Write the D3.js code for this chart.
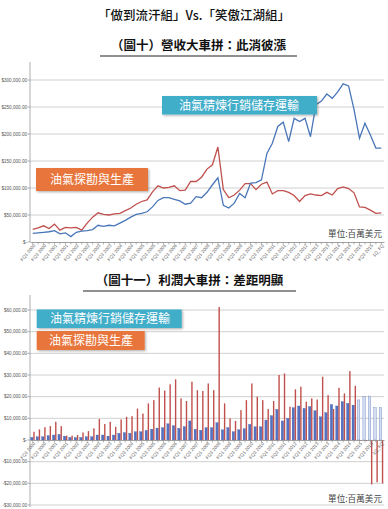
<!DOCTYPE html>
<html>
<head>
<meta charset="utf-8">
<script src="https://cdn.jsdelivr.net/npm/d3@7"></script>
<style>
  body { margin: 0; background: #fff; }
  svg { display: block; }
  text { font-family: "Liberation Sans", Arial, sans-serif; }
  .cjk { font-family: "Noto Sans CJK TC", sans-serif; }
</style>
</head>
<body>
<svg id="chart" width="388" height="509"></svg>
<script>
// categories: quarterly, FQ1 2000 .. FQ4 2015, then latest quarter
let years = d3.range(2000, 2016);
let quarters = [];
years.forEach(y => [1, 2, 3, 4].forEach(q => quarters.push("FQ" + q + " " + y)));
quarters.push("1Q_FQ");

// revenue (US$ millions)
let revRefining = [16000, 17000, 18000, 19000, 21000, 15000, 17000, 10000, 18000, 20000,
    21000, 23000, 31000, 29000, 31000, 30000, 35000, 40000, 46000, 51000,
    53000, 56000, 65000, 77000, 82000, 82000, 79000, 76000, 70000, 72000,
    84000, 82000, 92000, 106000, 119000, 68000, 63000, 72000, 90000, 82000,
    109000, 110000, 115000, 164000, 183000, 214000, 222000, 186000, 229000, 223000,
    229000, 195000, 254000, 261000, 274000, 266000, 278000, 293000, 289000, 245000,
    192000, 220000, 198000, 174000, 174000];
let revUpstream = [23500, 26000, 30000, 25000, 33000, 22000, 27000, 26000, 27000, 22000,
    35000, 46000, 54000, 51000, 50000, 52000, 53000, 58000, 63000, 70000,
    75000, 78000, 93000, 104000, 100000, 101000, 104000, 95000, 96000, 112000,
    112000, 120000, 135000, 143000, 176000, 97000, 82000, 87000, 96000, 108000,
    108000, 97000, 107000, 111000, 89000, 95000, 95000, 92000, 86000, 75000,
    86000, 89000, 87000, 86000, 92000, 87000, 99000, 102000, 99000, 91000,
    65000, 64000, 59000, 53000, 54000];

// profit (US$ millions)
let profRefining = [1200, 1500, 1500, 2000, 2300, 2600, 1800, 1200, 1200, 1200,
    1500, 1500, 2300, 2300, 1800, 2300, 3100, 3400, 3100, 3800,
    3800, 4400, 5000, 5500, 5700, 7500, 6600, 5400, 6200, 8800,
    5000, 4500, 5700, 5700, 8000, 4700, 5700, 3800, 4700, 5200,
    7200, 6100, 6100, 9200, 11200, 14100, 8800, 10000, 14900, 15700,
    14600, 15400, 13500, 10700, 12600, 16400, 15700, 17700, 16900, 16100,
    18500, 20000, 20300, 14900, 14900];
let profUpstream = [3800, 4900, 5900, 6400, 8400, 6400, 2000, 2000, 2300, 3500,
    4100, 5400, 9700, 7400, 8400, 6100, 9500, 10700, 11000, 14500,
    12200, 16900, 18400, 24200, 22800, 25700, 28000, 19200, 18000, 26900,
    23000, 22600, 26100, 23000, 61400, 16900, 10000, 8800, 13800, 18400,
    26100, 20000, 18400, 14300, 18000, 30000, 30700, 15400, 23400, 24600,
    17700, 19200, 18700, 29200, 20700, 14300, 24100, 21500, 31800, 25000,
    -300, -500, -20500, -19500, -20000];

let revTicks = [0, 50000, 100000, 150000, 200000, 250000, 300000];
let revTickLabels = ["$-", "$50,000.00", "$100,000.00", "$150,000.00", "$200,000.00", "$250,000.00", "$300,000.00"];
let profTicks = [-30000, -20000, -10000, 0, 10000, 20000, 30000, 40000, 50000, 60000];
let profTickLabels = ["-$30,000.00", "-$20,000.00", "-$10,000.00", "$-", "$10,000.00", "$20,000.00",
    "$30,000.00", "$40,000.00", "$50,000.00", "$60,000.00"];

let nameRefining = "油氣精煉行銷儲存運輸";
let nameUpstream = "油氣探勘與生產";

let cBlueLine = "#4a76b8", cRedLine = "#c0504d";
let cBlueBar = "#5372c2", cRedBar = "#c0504d";
let cTeal = "#3fadc9", cOrange = "#e8743a";

let svg = d3.select("#chart");
let defs = svg.append("defs");
defs.append("filter").attr("id", "shadow")
    .attr("x", "-10%").attr("y", "-20%").attr("width", "130%").attr("height", "160%")
    .append("feDropShadow")
    .attr("dx", 1.2).attr("dy", 1.2).attr("stdDeviation", 1)
    .attr("flood-color", "#000").attr("flood-opacity", 0.3);

// ---- titles
svg.append("text").attr("class", "cjk")
    .attr("x", 194).attr("y", 20)
    .attr("text-anchor", "middle")
    .attr("font-size", 12.5).attr("font-weight", 500)
    .attr("fill", "#111")
    .text("「做到流汗組」Vs.「笑傲江湖組」");

function subTitle(txt, cy, x0, x1) {
    svg.append("text").attr("class", "cjk")
        .attr("x", (x0 + x1) / 2).attr("y", cy + 4.5)
        .attr("text-anchor", "middle")
        .attr("font-size", 12.5).attr("font-weight", 700)
        .attr("fill", "#111")
        .text(txt);
    svg.append("line")
        .attr("x1", x0).attr("x2", x1)
        .attr("y1", cy + 11).attr("y2", cy + 11)
        .attr("stroke", "#222").attr("stroke-width", 1.2);
}
subTitle("（圖十）營收大車拼：此消彼漲", 45, 100, 297);
subTitle("（圖十一）利潤大車拼：差距明顯", 280, 83, 296);

// ---- shared x scale
let left = 30, right = 384;
let x = d3.scaleBand().domain(quarters).range([left, right]).padding(0);
let cx = q => x(q) + x.bandwidth() / 2;

function yAxis(scale, ticks, labels, top, bottom, zeroY) {
    let g = svg.append("g");
    g.selectAll("line.grid").data(ticks.filter(t => t !== 0)).join("line")
        .attr("class", "grid")
        .attr("x1", left).attr("x2", right)
        .attr("y1", d => scale(d)).attr("y2", d => scale(d))
        .attr("stroke", "#c4c4c4").attr("stroke-width", 0.8);
    g.append("line")
        .attr("x1", left).attr("x2", left)
        .attr("y1", top).attr("y2", bottom)
        .attr("stroke", "#9a9a9a").attr("stroke-width", 0.8);
    g.selectAll("line.tk").data(ticks).join("line")
        .attr("class", "tk")
        .attr("x1", left - 2.5).attr("x2", left)
        .attr("y1", d => scale(d)).attr("y2", d => scale(d))
        .attr("stroke", "#9a9a9a").attr("stroke-width", 0.8);
    g.selectAll("text").data(ticks).join("text")
        .attr("x", left - 3).attr("y", d => scale(d) + 1.6)
        .attr("text-anchor", "end")
        .attr("font-size", 4.6).attr("fill", "#555")
        .text((d, i) => labels[i]);
}

function xAxis(y0, labelAngle) {
    let ax = d3.axisBottom(x).tickSize(2.5).tickSizeOuter(0)
        .tickFormat((d, i) => i % 2 === 0 ? d : "");
    let g = svg.append("g").attr("transform", "translate(0," + y0 + ")").call(ax);
    g.select(".domain").attr("stroke", "#8a8a8a").attr("stroke-width", 0.8);
    g.selectAll(".tick line").attr("stroke", "#8a8a8a").attr("stroke-width", 0.6);
    g.selectAll(".tick text")
        .attr("font-family", "Liberation Sans, Arial, sans-serif")
        .attr("font-size", 4.6).attr("fill", "#666")
        .attr("x", -1).attr("y", 3).attr("dy", "0.35em")
        .attr("transform", "rotate(" + labelAngle + ")")
        .style("text-anchor", "end");
}

function tagBox(txt, bx, by, bw, bh, fill, tx) {
    svg.append("rect")
        .attr("x", bx).attr("y", by).attr("width", bw).attr("height", bh)
        .attr("fill", fill).attr("filter", "url(#shadow)");
    svg.append("text").attr("class", "cjk")
        .attr("x", tx).attr("y", by + bh / 2 + 4.3)
        .attr("font-size", 12).attr("fill", "#fff")
        .text(txt);
}

// ================= chart 1: revenue lines
let y1 = d3.scaleLinear().domain([0, 300000]).range([242, 80]);
yAxis(y1, revTicks, revTickLabels, 62, 242);
xAxis(242, -50);

let line1 = d3.line().x((d, i) => cx(quarters[i])).y(d => y1(d));
svg.append("path").datum(revUpstream)
    .attr("d", line1).attr("fill", "none")
    .attr("stroke", cRedLine).attr("stroke-width", 1.3);
svg.append("path").datum(revRefining)
    .attr("d", line1).attr("fill", "none")
    .attr("stroke", cBlueLine).attr("stroke-width", 1.3);

tagBox(nameRefining, 162, 96, 155, 18.5, cTeal, 179);
tagBox(nameUpstream, 36, 168, 112, 23, cOrange, 50);

svg.append("text").attr("class", "cjk")
    .attr("x", 382).attr("y", 237).attr("text-anchor", "end")
    .attr("font-size", 8.6).attr("fill", "#444")
    .text("單位:百萬美元");

// ================= chart 2: profit bars
let y2 = d3.scaleLinear().domain([-30000, 60000]).range([505, 310]);
yAxis(y2, profTicks, profTickLabels, 295, 507);

let bars = svg.append("g");
bars.selectAll("rect.ref").data(profRefining).join("rect")
    .attr("class", "ref")
    .attr("x", (d, i) => x(quarters[i]) + 0.7)
    .attr("width", 2.4)
    .attr("y", d => y2(Math.max(0, d)))
    .attr("height", d => Math.abs(y2(d) - y2(0)))
    .attr("fill", (d, i) => i >= 60 ? "#d4def2" : cBlueBar)
    .attr("stroke", "#3e5ea8").attr("stroke-width", 0.3);
bars.selectAll("rect.up").data(profUpstream).join("rect")
    .attr("class", "up")
    .attr("x", (d, i) => x(quarters[i]) + 3.3)
    .attr("width", 1.4)
    .attr("y", d => y2(Math.max(0, d)))
    .attr("height", d => Math.abs(y2(d) - y2(0)))
    .attr("fill", cRedBar);

xAxis(y2(0), -50);

tagBox(nameRefining, 36.7, 309.5, 145, 18.5, cTeal, 50);
tagBox(nameUpstream, 36.7, 331, 108, 19, cOrange, 49);

svg.append("text").attr("class", "cjk")
    .attr("x", 382).attr("y", 502).attr("text-anchor", "end")
    .attr("font-size", 8.6).attr("fill", "#444")
    .text("單位:百萬美元");
</script>
</body>
</html>
